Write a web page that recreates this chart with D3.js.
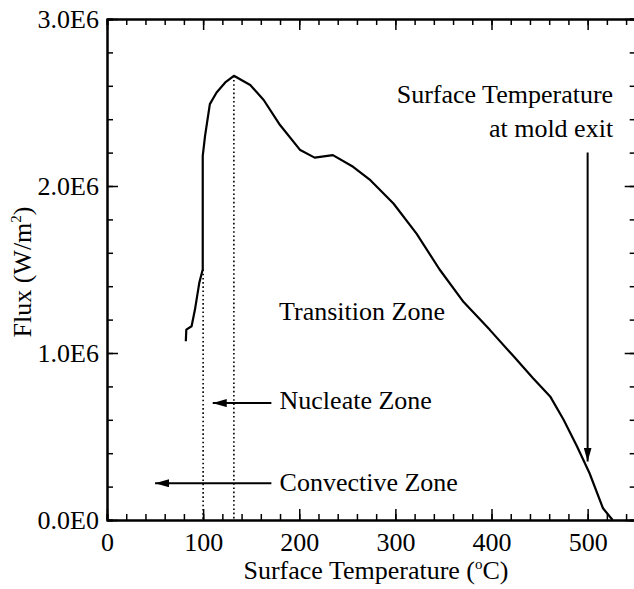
<!DOCTYPE html>
<html>
<head>
<meta charset="utf-8">
<script src="https://cdn.jsdelivr.net/npm/d3@7"></script>
<style>
  body { margin: 0; background: #fff; }
  svg text { font-family: "Liberation Serif", "Times New Roman", serif; fill: #000; }
</style>
</head>
<body>
<svg id="chart" width="634" height="589"></svg>
<script>
// surface temperature (C) and heat flux (W/m2)
const tempC = [82, 82.5, 88, 91.5, 96, 99.6, 99.6, 102, 107, 114, 123, 132, 149, 163, 180, 201, 216, 235,
  256, 274, 298, 322, 346, 371, 398, 423, 443, 461, 475, 489, 502, 516, 526];
const fluxWm2 = [1.07e6, 1.14e6, 1.16e6, 1.26e6, 1.42e6, 1.50e6, 2.18e6, 2.30e6, 2.49e6, 2.56e6, 2.62e6, 2.66e6,
  2.605e6, 2.515e6, 2.365e6, 2.215e6, 2.17e6, 2.185e6, 2.115e6, 2.035e6, 1.895e6, 1.715e6, 1.50e6, 1.305e6,
  1.14e6, 0.98e6, 0.85e6, 0.74e6, 0.60e6, 0.44e6, 0.28e6, 0.07e6, 0];

const xTicks = [0, 100, 200, 300, 400, 500];
const yTicks = [0, 1e6, 2e6, 3e6];

// zone boundaries (dotted lines)
const boundaryTemps = [100, 132];
const boundaryTops = [1.5e6, 2.66e6];

const svg = d3.select("#chart");

const x = d3.scaleLinear().domain([0, 550]).range([107, 635.7]);
const y = d3.scaleLinear().domain([0, 3e6]).range([520, 19]);

const xMinor = d3.range(0, 551, 20);
const yMinor = d3.range(0, 3e6 + 1, 2e5);
const fmtE = d => d3.format(".1e")(d).replace("e+", "E");

function styleAxis(g) {
  g.selectAll("path").attr("stroke", "#000").attr("stroke-width", 2);
  g.selectAll("line").attr("stroke", "#000").attr("stroke-width", 1.5);
  g.selectAll("text").style("font-size", "26px").attr("fill", "#000");
}

// minor ticks
svg.append("g").attr("transform", "translate(0,520)")
  .call(d3.axisBottom(x).tickValues(xMinor).tickSize(-6).tickFormat("")).call(styleAxis);
svg.append("g").attr("transform", "translate(0,19)")
  .call(d3.axisTop(x).tickValues(xMinor).tickSize(-6).tickFormat("")).call(styleAxis);
svg.append("g").attr("transform", "translate(107,0)")
  .call(d3.axisLeft(y).tickValues(yMinor).tickSize(-6).tickFormat("")).call(styleAxis);
svg.append("g").attr("transform", "translate(635.7,0)")
  .call(d3.axisRight(y).tickValues(yMinor).tickSize(-6).tickFormat("")).call(styleAxis);

// major ticks
svg.append("g").attr("transform", "translate(0,520)")
  .call(d3.axisBottom(x).tickValues(xTicks).tickSize(-11).tickSizeOuter(0).tickPadding(13).tickFormat(d3.format("d")))
  .call(styleAxis);
svg.append("g").attr("transform", "translate(0,19)")
  .call(d3.axisTop(x).tickValues(xTicks).tickSize(-11).tickSizeOuter(0).tickFormat(""))
  .call(styleAxis);
svg.append("g").attr("transform", "translate(107,0)")
  .call(d3.axisLeft(y).tickValues(yTicks).tickSize(-11).tickSizeOuter(0).tickPadding(8).tickFormat(fmtE))
  .call(styleAxis);
svg.append("g").attr("transform", "translate(635.7,0)")
  .call(d3.axisRight(y).tickValues(yTicks).tickSize(-11).tickSizeOuter(0).tickFormat(""))
  .call(styleAxis);

// dotted zone boundaries
svg.selectAll(".boundary").data(boundaryTemps).enter().append("line")
  .attr("x1", d => x(d)).attr("x2", d => x(d))
  .attr("y1", (d, i) => y(boundaryTops[i])).attr("y2", y(0))
  .attr("stroke", "#000").attr("stroke-width", 1.6).attr("stroke-dasharray", "1.6,2.6");

// flux curve
svg.append("path")
  .datum(d3.zip(tempC, fluxWm2))
  .attr("fill", "none").attr("stroke", "#000").attr("stroke-width", 2.2)
  .attr("stroke-linejoin", "round")
  .attr("d", d3.line().x(d => x(d[0])).y(d => y(d[1])));

// arrows
svg.append("defs").append("marker")
  .attr("id", "head").attr("viewBox", "0 0 14 8").attr("refX", 14).attr("refY", 4)
  .attr("markerWidth", 14).attr("markerHeight", 8).attr("markerUnits", "userSpaceOnUse")
  .attr("orient", "auto")
  .append("path").attr("d", "M0,0L14,4L0,8Z").attr("fill", "#000");

const arrows = [
  { x1: 171, y1: 0.70e6, x2: 110, y2: 0.70e6 },
  { x1: 171, y1: 0.22e6, x2: 50, y2: 0.22e6 },
  { x1: 500, y1: 2.2e6, x2: 500, y2: 0.35e6 }
];
svg.selectAll(".arrow").data(arrows).enter().append("line")
  .attr("x1", d => x(d.x1)).attr("y1", d => y(d.y1))
  .attr("x2", d => x(d.x2)).attr("y2", d => y(d.y2))
  .attr("stroke", "#000").attr("stroke-width", 2)
  .attr("marker-end", "url(#head)");

// zone labels
const labels = [
  { t: "Transition Zone", x: 179, y: 1.2e6, anchor: "start" },
  { t: "Nucleate Zone", x: 179.5, y: 0.665e6, anchor: "start" },
  { t: "Convective Zone", x: 179.5, y: 0.175e6, anchor: "start" },
  { t: "Surface Temperature", x: 526.5, y: 2.50e6, anchor: "end" },
  { t: "at mold exit", x: 526.5, y: 2.295e6, anchor: "end" }
];
svg.selectAll(".lbl").data(labels).enter().append("text")
  .attr("x", d => x(d.x)).attr("y", d => y(d.y))
  .attr("text-anchor", d => d.anchor)
  .style("font-size", "26px")
  .text(d => d.t);

// axis titles
const xt = svg.append("text").attr("x", 376).attr("y", 579)
  .attr("text-anchor", "middle").style("font-size", "26px");
xt.append("tspan").text("Surface Temperature (");
xt.append("tspan").attr("dy", -10).style("font-size", "15px").text("o");
xt.append("tspan").attr("dy", 10).text("C)");

const yt = svg.append("text").attr("transform", "translate(31,272) rotate(-90)")
  .attr("text-anchor", "middle").style("font-size", "26px");
yt.append("tspan").text("Flux (W/m");
yt.append("tspan").attr("dy", -10).style("font-size", "15px").text("2");
yt.append("tspan").attr("dy", 10).text(")");
</script>
</body>
</html>
